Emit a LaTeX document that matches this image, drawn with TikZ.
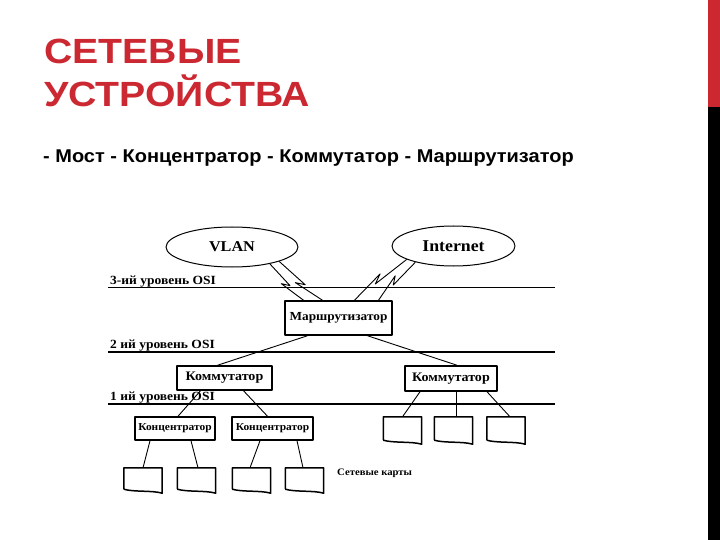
\documentclass[tikz,border=0pt]{standalone}
\usepackage{fontspec}
\setmainfont{Liberation Sans}
\newfontfamily\titlefont[FakeStretch=1.12]{Liberation Sans}
\newfontfamily\itemfont[FakeStretch=1.08]{Liberation Sans}
\newfontfamily\netfont[FakeStretch=1.08]{Liberation Serif}
\usetikzlibrary{positioning,calc,shapes.geometric}
\definecolor{slidered}{RGB}{203,40,50}
\tikzset{
  title/.style={anchor=base west, inner sep=0pt, text=slidered,
    font={\titlefont\bfseries\fontsize{35}{40}\selectfont}},
  device/.style={draw, line width=1.5pt, inner sep=0pt,
    font={\netfont\bfseries\fontsize{13}{15}\selectfont}},
  hub/.style={device, minimum width=80pt, minimum height=23pt,
    font={\netfont\bfseries\fontsize{10.6}{12}\selectfont}},
  card/.style={minimum width=38pt, minimum height=26pt, inner sep=0pt},
  cardline/.style={line width=1.5pt},
  cloud/.style={draw, ellipse, line width=1pt, inner sep=0pt,
    font={\netfont\bfseries\fontsize{15}{17}\selectfont}},
  level/.style={line width=1.6pt},
  levellabel/.style={anchor=base west, inner sep=0pt,
    font={\netfont\bfseries\fontsize{12.5}{14}\selectfont}},
  link/.style={line width=0.9pt},
  bolt/.style={line width=0.9pt,
    to path={-- ($(\tikztostart)!0.6!(\tikztotarget)$)
      -- ($(\tikztostart)!0.45!(\tikztotarget)!5pt!-90:(\tikztotarget)$)
      -- (\tikztotarget)}},
}
\begin{document}
\begin{tikzpicture}[x=1pt, y=-1pt, line join=round]
  \useasboundingbox (0,0) rectangle (720,540);

  % side bar
  \fill[slidered] (708,0) rectangle (720,107);
  \fill[black] (708,107) rectangle (720,540);

  % heading
  \node[title] (head1) at (44,64) {СЕТЕВЫЕ};
  \node[title] (head2) at (44,107) {УСТРОЙСТВА};
  \node[anchor=base west, inner sep=0pt,
    font={\itemfont\bfseries\fontsize{18.5}{21}\selectfont}] (items) at (43,163)
    {- Мост - Концентратор - Коммутатор - Маршрутизатор};

  % networks
  \node[cloud, minimum width=132pt, minimum height=40pt] (vlan) at (232,247) {VLAN};
  \node[cloud, minimum width=123pt, minimum height=40pt,
    font={\netfont\bfseries\fontsize{16.5}{18}\selectfont}] (inet) at (453.5,246) {Internet};

  % OSI levels
  \coordinate (l3a) at (108,287);
  \coordinate (l3b) at (555,287);
  \coordinate (l2a) at (108,352);
  \coordinate (l2b) at (555,352);
  \coordinate (l1a) at (108,404);
  \coordinate (l1b) at (555,404);
  \draw[line width=0.8pt] (l3a) -- (l3b);
  \draw[level] (l2a) -- (l2b);
  \draw[level] (l1a) -- (l1b);
  \node[levellabel] (lab3) at (110,284) {3-ий уровень OSI};
  \node[levellabel] (lab2) at (110,348) {2 ий уровень OSI};
  \node[levellabel] (lab1) at (110,400) {1 ий уровень OSI};

  % router
  \node[device, minimum width=107pt, minimum height=34pt,
    font={\netfont\bfseries\fontsize{12.3}{14}\selectfont}] (router) at (338.5,318) {Маршрутизатор};
  \coordinate (r1) at ([xshift=-35pt]router.north);
  \coordinate (r2) at ([xshift=-16pt]router.north);
  \coordinate (r3) at ([xshift=16pt]router.north);
  \coordinate (r4) at ([xshift=40pt]router.north);
  \draw[bolt] (vlan.-24) to (r1);
  \draw[bolt] (vlan.-17) to (r2);
  \draw[bolt] (inet.-164) to (r3);
  \draw[bolt] (inet.-157) to (r4);

  % switches
  \node[device, minimum width=95pt, minimum height=24pt] (swL) at (224.5,378) {Коммутатор};
  \node[device, minimum width=92pt, minimum height=25pt] (swR) at (451,378.5) {Коммутатор};
  \draw[link] ([xshift=-31pt]router.south) -- ([xshift=-7pt]swL.north);
  \draw[link] ([xshift=29pt]router.south) -- ([xshift=6pt]swR.north);

  % hubs
  \node[hub] (hub1) at (175,428.5) {Концентратор};
  \node[hub, minimum width=81pt] (hub2) at (272.5,428.5) {Концентратор};
  \draw[link] ([xshift=-24pt]swL.south) -- ([xshift=3pt]hub1.north);
  \draw[link] ([xshift=19pt]swL.south) -- ([xshift=-5pt]hub2.north);

  % network cards
  \node[card, minimum height=27pt] (c1) at (402.5,430.5) {};
  \node[card, minimum height=27pt] (c2) at (453.5,430.5) {};
  \node[card, minimum height=27pt] (c3) at (506,430.5) {};
  \node[card, minimum height=25pt] (k1) at (143,480.5) {};
  \node[card, minimum height=25pt] (k2) at (196.5,480.5) {};
  \node[card, minimum height=25pt] (k3) at (251.5,480.5) {};
  \node[card, minimum height=25pt] (k4) at (304.5,480.5) {};
  \foreach \c in {c1,c2,c3,k1,k2,k3,k4}
    \draw[cardline] ($(\c.south west)+(0,4pt)$) -- (\c.north west) -- (\c.north east)
      -- (\c.south east) .. controls +(-10pt,3pt) and +(10pt,-3pt) .. ($(\c.south west)+(0,4pt)$);
  \draw[link] ([xshift=-31pt]swR.south) -- (c1.north);
  \draw[link] ([xshift=5pt]swR.south) -- ([xshift=2.5pt]c2.north);
  \draw[link] ([xshift=36pt]swR.south) -- ([xshift=4pt]c3.north);
  \draw[link] ([xshift=-25pt]hub1.south) -- (k1.north);
  \draw[link] ([xshift=16pt]hub1.south) -- ([xshift=1.5pt]k2.north);
  \draw[link] ([xshift=-12.5pt]hub2.south) -- ([xshift=-1.5pt]k3.north);
  \draw[link] ([xshift=24.5pt]hub2.south) -- ([xshift=-1.5pt]k4.north);
  \node[anchor=west, inner sep=0pt,
    font={\netfont\bfseries\fontsize{9.9}{11}\selectfont}] (cards) at (337,473) {Сетевые карты};
\end{tikzpicture}
\end{document}
